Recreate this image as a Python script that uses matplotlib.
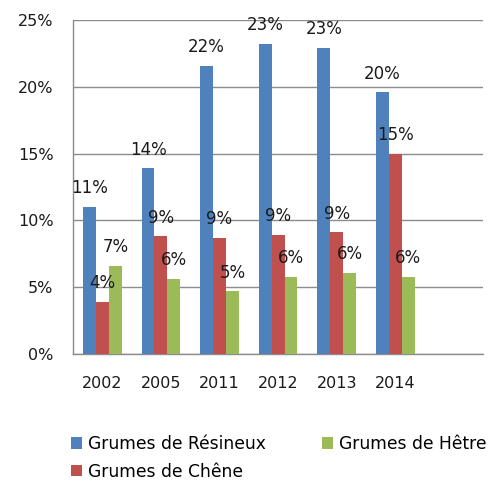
import numpy as np
import matplotlib.pyplot as plt

years = ["2002", "2005", "2011", "2012", "2013", "2014"]
resineux = [11.0, 13.9, 21.6, 23.2, 22.9, 19.6]
chene = [3.9, 8.8, 8.7, 8.9, 9.1, 15.0]
hetre = [6.6, 5.6, 4.7, 5.8, 6.1, 5.8]
series_names = ["Grumes de Résineux", "Grumes de Chêne", "Grumes de Hêtre"]
colors = ["#4F81BD", "#C0504D", "#9BBB59"]

fig = plt.figure(figsize=(4.97, 4.91), dpi=100)
ax = fig.add_axes([0.147, 0.279, 0.825, 0.68])

x = np.arange(len(years))
w = 0.22
handles = []
for i, (vals, name, c) in enumerate(zip([resineux, chene, hetre], series_names, colors)):
    pos = x + (i - 1) * w
    b = ax.bar(pos, vals, width=w, color=c, label=name, zorder=3)
    handles.append(b)
    for px, v in zip(pos, vals):
        ax.annotate(f"{v:.0f}%", (px, v), xytext=(0, 7), textcoords="offset points",
                    ha="center", va="bottom", fontsize=12, color="#1a1a1a", zorder=4)

# extra empty slot on the right like the original
ax.set_xlim(-0.5, len(years) + 0.5)
ax.set_ylim(0, 25)
ax.set_yticks(np.arange(0, 26, 5))
ax.set_yticklabels([f"{t}%" for t in range(0, 26, 5)])
ax.set_xticks(x)
ax.set_xticklabels(years)
ax.tick_params(axis="both", length=0, labelsize=11.5, colors="#1a1a1a")
ax.tick_params(axis="y", pad=14)
ax.tick_params(axis="x", pad=16)
ax.grid(axis="y", color="#8c8c8c", linewidth=1, zorder=0)
for s in ["top", "right"]:
    ax.spines[s].set_visible(False)
for s in ["left", "bottom"]:
    ax.spines[s].set_color("#8c8c8c")
    ax.spines[s].set_linewidth(1)

fig.legend(handles=handles, labels=series_names, ncol=2, frameon=False,
           loc="upper left", bbox_to_anchor=(0.112, 0.145), fontsize=12.3,
           handlelength=0.65, handleheight=0.65, handletextpad=0.35,
           columnspacing=3.3, labelspacing=0.55)

fig.savefig("out.png", dpi=100)
